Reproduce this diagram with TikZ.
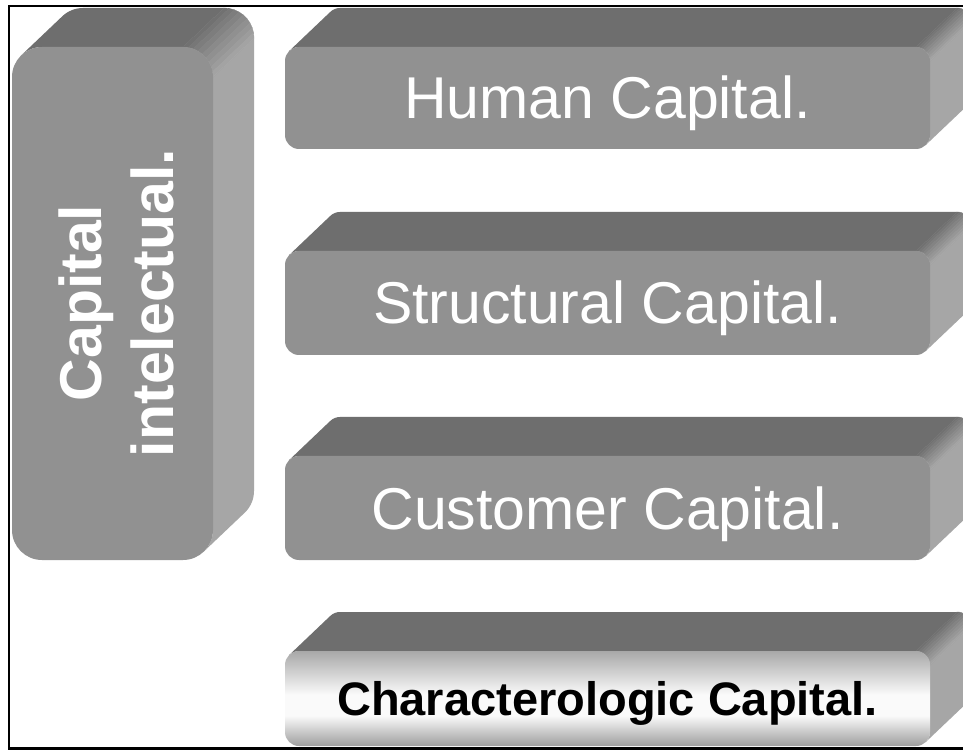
\documentclass[tikz,border=0pt]{standalone}
\usepackage{fontspec}
\setmainfont{Liberation Sans}
\usetikzlibrary{calc}

\definecolor{slabtop}{RGB}{110,110,110}
\definecolor{slabside}{RGB}{166,166,166}
\definecolor{slabfront}{RGB}{145,145,145}
\definecolor{chrometop}{RGB}{168,168,168}
\definecolor{chromebot}{RGB}{158,158,158}
\definecolor{chromemid}{RGB}{250,250,250}

% metallic band for the bottom slab (bottom -> top)
\pgfdeclareverticalshading{chromebar}{100bp}{%
  color(0bp)=(chromebot); color(25bp)=(chromebot);
  color(41bp)=(chromemid); color(52bp)=(chromemid);
  color(75bp)=(chrometop); color(100bp)=(chrometop)}

% extrusion depth of every slab
\def\dx{41}
\def\dy{39}

% \slab{left}{bottom}{right}{top}{corner radius}{front face options}
\newcommand{\slab}[6]{%
  \pgfmathsetmacro{\kk}{0.2929*#5}
  % top face
  \fill[slabtop] ({#1+\kk},{#4-\kk}) -- ++(\dx,\dy)
    arc[start angle=135,end angle=90,radius=#5]
    -- ({#3-#5+\dx},{#4+\dy}) -- ({#3-#5},{#4})
    -- ({#1+#5},{#4}) arc[start angle=90,end angle=135,radius=#5] -- cycle;
  % right face
  \fill[slabside] ({#3+\dx},{#4-#5+\dy}) -- ({#3+\dx},{#2+#5+\dy})
    arc[start angle=0,end angle=-45,radius=#5]
    -- ({#3-\kk},{#2+\kk}) arc[start angle=-45,end angle=0,radius=#5]
    -- ({#3},{#4-#5}) -- cycle;
  % rounded edge between top and right face
  \foreach \a [evaluate=\a as \pc using int(100*(95-\a)/90)] in {90,80,...,10}{
    \filldraw[fill=slabside!\pc!slabtop, draw=slabside!\pc!slabtop, line width=0.4pt]
      ({#3-#5+#5*cos(\a)},{#4-#5+#5*sin(\a)}) -- ++(\dx,\dy)
      arc[start angle=\a,end angle=\a-10,radius=#5]
      -- ++(-\dx,-\dy) arc[start angle=\a-10,end angle=\a,radius=#5] -- cycle;
  }
  % front face
  \path[#6, rounded corners=#5pt] (#1,#2) rectangle (#3,#4);
}

\begin{document}
\begin{tikzpicture}[x=1pt,y=1pt,
  rtitle/.style={anchor=base, inner sep=0pt, text=white,
    font=\fontsize{59}{70}\selectfont},
  ltitle/.style={anchor=base, inner sep=0pt, text=white, rotate=90,
    font=\fontsize{59}{70}\selectfont\bfseries},
  btitle/.style={anchor=base, inner sep=0pt, text=black,
    font=\fontsize{47}{56}\selectfont\bfseries},
  frame/.style={draw=black, line width=2.4pt}]

\path[use as bounding box] (0,0) rectangle (963,750);
\fill[white] (0,0) rectangle (963,750);

\begin{scope}
  \clip (0,0) rectangle (963,750);
  \slab{12}{190}{213}{703}{30}{fill=slabfront}
  \slab{285}{601}{930}{703}{14}{fill=slabfront}
  \slab{285}{395}{930}{499}{14}{fill=slabfront}
  \slab{285}{190}{930}{294}{14}{fill=slabfront}
  \slab{285}{4}{930}{99}{14}{shade, shading=chromebar}
\end{scope}

% labels
\node[ltitle] (capital) at (101,447) {Capital};
\node[ltitle] (intelectual) at (173,447) {intelectual.};
\node[rtitle] (human) at (607.5,631) {Human Capital.};
\node[rtitle] (structural) at (607.5,426) {Structural Capital.};
\node[rtitle] (customer) at (607.5,221) {Customer Capital.};
\node[btitle] (character) at (607.5,35) {Characterologic Capital.};

% outer frame (open on the right)
\draw[frame] (963,744) -- (9,744) -- (9,1.5) -- (963,1.5);
\end{tikzpicture}
\end{document}
